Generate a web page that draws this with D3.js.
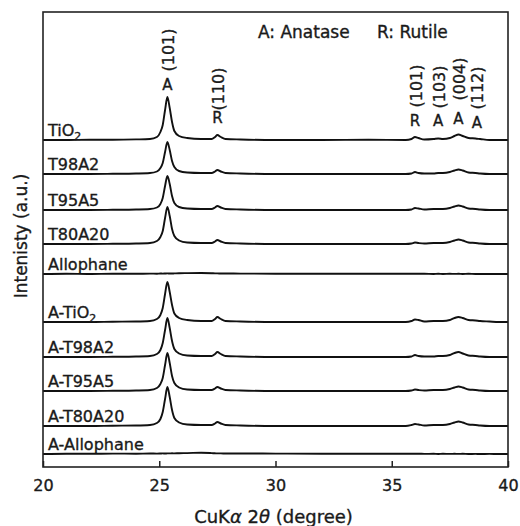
<!DOCTYPE html>
<html>
<head>
<meta charset="utf-8">
<script src="https://cdn.jsdelivr.net/npm/d3@7"></script>
<style>
  body { margin: 0; background: #fff; }
  text { font-family: "DejaVu Sans", sans-serif; fill: #1a1a1a; stroke: #1a1a1a; stroke-width: 0.35px; }
</style>
</head>
<body>
<div id="chart"></div>
<script>
// 2theta grid (degrees)
var twoTheta = [20,21,22,23,24,24.6,24.9,25.05,25.15,25.25,25.35,25.45,25.55,25.65,25.85,26.2,26.8,
  27.25,27.4,27.5,27.65,27.85,28.5,30,32,34,35.6,35.85,36.0,36.15,36.4,36.8,37.0,37.2,37.5,37.7,
  37.87,38.05,38.3,38.6,38.8,39.2,39.6,40];

// intensities above each baseline (a.u.)
var tio2      = [0,0,0.3,0.3,0.6,1,3,8,15,30,43,32,18,9,4,2,1,1,3,5,3,1,0.5,0,0,0.2,0,1,3,2,0.5,1,1.5,1,2,4,5.5,4,2,1.5,1,0,0,0];
var t98a2     = [0,0,0,0.2,0.5,1,2.5,6,11,22,32,24,13,7,3,1.5,1,1,2.5,4,2.5,1,0.5,0,0,0,0,0.5,2,1,0.5,0.5,1,1,2,3.5,4.5,3.5,1.5,1,0.5,0,0,0];
var t95a5     = [0,0,0,0.2,0.5,1,2.5,6,12,24,34,26,14,7,3,1.5,1,1,2.5,4,2.5,1,0.5,0,0,0,0,0.5,2,1.5,0.5,1,1,1,2,3.5,4.5,3.5,1.5,1,0.5,0,0,0];
var t80a20    = [0,0,0,0.2,0.5,1,3,7,13,26,37,28,15,8,3.5,1.5,1,1,2.5,4,2.5,1,0.5,0,0,0,0,0.5,1.5,1,0.5,1,1,1,2,3.5,4.5,3.5,1.5,1,0.5,0,0,0];
var allophane = [0,0.3,0,0.3,0.2,0.4,0.3,0.5,0.4,0.5,0.6,0.5,0.5,0.6,0.8,0.9,1,0.8,0.6,0.6,0.5,0.5,0.4,0.3,0.3,0.2,0.2,0.2,0.3,0.2,0.2,0,0.2,0,0.2,0.1,0.2,0,0.2,0,0,0,0,0];
var aTio2     = [0,0,0,0.3,0.5,1,3,7,14,28,40,30,17,8.5,4,2,1,1,3,5,3,1,0.5,0,0,0,0,1,2.5,2,0.5,1,1,1,2,4,5,4,2,1.5,1,0.5,0,0];
var aT98a2    = [0,0,0,0.2,0.5,1,3,7,14,27,39,29,16,8,3.5,1.5,1,1,3,5,3,1,0.5,0,0,0,0,0.5,2,1,0.5,0.5,1,1,2,4,5,3.5,1.5,1,0.5,0,0,0];
var aT95a5    = [0,0,0,0.2,0.5,1,3,7,13,26,38,28,15,8,3.5,1.5,1,1,2.5,4,2.5,1,0.5,0,0,0,0,0.5,1.5,1,0.5,1,1,1,2,3.5,4.5,3.5,1.5,1,0.5,0,0,0];
var aT80a20   = [0,0,0,0.3,0.5,1,3,7,14,27,39,29,16,8,3.5,1.5,1,1,2.5,4,2.5,1,0.5,0,0,0,0,1,2,1.5,0.5,1,1,1,2,3.5,4.5,3.5,1.5,1,0.5,0,0,0];
var aAllophane= [0,0.3,0.2,0.4,0.3,0.5,0.4,0.5,0.6,0.5,0.6,0.6,0.7,0.6,0.8,0.9,1.3,0.9,0.7,0.6,0.6,0.5,0.5,0.4,0.3,0.3,0.2,0.3,0.2,0.3,0.1,0.2,0,0.2,0.1,0.2,0.1,0.2,0,0.1,0,0.1,0,0];

var sampleNames = ["TiO2","T98A2","T95A5","T80A20","Allophane","A-TiO2","A-T98A2","A-T95A5","A-T80A20","A-Allophane"];
var sampleData  = [tio2, t98a2, t95a5, t80a20, allophane, aTio2, aT98a2, aT95a5, aT80a20, aAllophane];
// vertical offset of each pattern (a.u.)
var baselines   = [327, 293, 257, 223, 193, 145, 110, 76, 41, 13];

// reflections marked above the top pattern
var peakPos   = [25.35, 27.5, 36.0, 37.0, 37.87, 38.66];
var peakHkl   = ["(101)","(110)","(101)","(103)","(004)","(112)"];
var peakPhase = ["A","R","R","A","A","A"];

var xTicks = [20, 25, 30, 35, 40];

// set the dimensions and margins of the graph
var margin = {top: 12, right: 12, bottom: 59, left: 43},
    width = 520 - margin.left - margin.right,
    height = 526 - margin.top - margin.bottom;

var svg = d3.select("#chart")
  .append("svg")
    .attr("width", width + margin.left + margin.right)
    .attr("height", height + margin.top + margin.bottom)
  .append("g")
    .attr("transform", "translate(" + margin.left + "," + margin.top + ")");

var x = d3.scaleLinear().domain([20, 40]).range([0, width]);
var y = d3.scaleLinear().domain([0, 455]).range([height, 0]);

// x axis, ticks pointing inward
var xAxis = svg.append("g")
  .attr("transform", "translate(0," + height + ")")
  .call(d3.axisBottom(x).tickValues(xTicks).tickSizeInner(-6).tickSizeOuter(0).tickPadding(13));
xAxis.select(".domain").remove();
xAxis.selectAll("line").attr("stroke", "#222").attr("stroke-width", 1.5);
xAxis.selectAll("text").style("font-size", "16px").attr("fill", "#1a1a1a");

// patterns
var line = d3.line()
  .x(function(d) { return x(d[0]); })
  .y(function(d) { return y(d[1]); })
  .curve(d3.curveMonotoneX);

sampleData.forEach(function(vals, i) {
  var pts = twoTheta.map(function(t, j) { return [t, baselines[i] + vals[j]]; });
  svg.append("path")
    .datum(pts)
    .attr("fill", "none")
    .attr("stroke", "#111")
    .attr("stroke-width", 1.9)
    .attr("stroke-linejoin", "round")
    .attr("d", line);

  var name = sampleNames[i];
  var lab = svg.append("text")
    .attr("x", 5)
    .attr("y", y(baselines[i]) - 4)
    .style("font-size", "16px");
  if (/TiO2$/.test(name)) {
    lab.append("tspan").text(name.slice(0, -1));
    lab.append("tspan").attr("dy", 4).style("font-size", "11px").text("2");
  } else {
    lab.text(name);
  }
});

// frame
svg.append("rect")
  .attr("width", width)
  .attr("height", height)
  .attr("fill", "none")
  .attr("stroke", "#222")
  .attr("stroke-width", 1.6);

// peak annotations
var hklY = [38, 77, 74, 75, 67, 76];
var letterY = [90, 123, 126, 126, 124, 128];
peakPos.forEach(function(p, i) {
  svg.append("text")
    .attr("transform", "translate(" + (x(p) + 1) + "," + hklY[i] + ") rotate(-90)")
    .attr("text-anchor", "middle")
    .attr("dominant-baseline", "central")
    .style("font-size", "16px")
    .text(peakHkl[i]);
  svg.append("text")
    .attr("x", x(p))
    .attr("y", letterY[i] - margin.top)
    .attr("text-anchor", "middle")
    .style("font-size", "15px")
    .text(peakPhase[i]);
});

// legend
svg.append("text").attr("x", 215).attr("y", 26).style("font-size", "17px").text("A: Anatase");
svg.append("text").attr("x", 334).attr("y", 26).style("font-size", "17px").text("R: Rutile");

// axis titles
var xt = svg.append("text")
  .attr("x", width / 2 - 2)
  .attr("y", height + 56)
  .attr("text-anchor", "middle")
  .style("font-size", "18px");
xt.append("tspan").text("CuK");
xt.append("tspan").style("font-style", "italic").text("\u03b1");
xt.append("tspan").text(" 2");
xt.append("tspan").style("font-style", "italic").text("\u03b8");
xt.append("tspan").text(" (degree)");

svg.append("text")
  .attr("transform", "translate(" + (27 - margin.left) + "," + (236 - margin.top) + ") rotate(-90)")
  .attr("text-anchor", "middle")
  .style("font-size", "17px")
  .text("Intenisty (a.u.)");
</script>
</body>
</html>
